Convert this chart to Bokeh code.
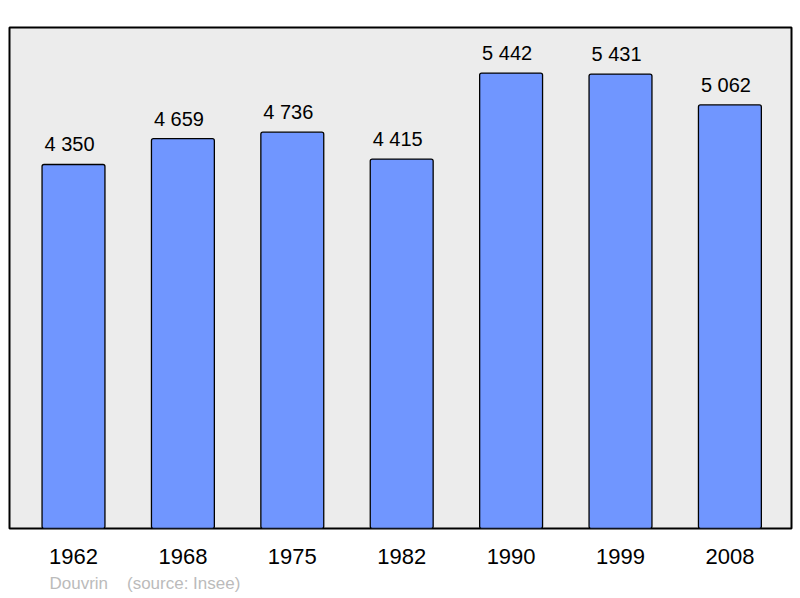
from bokeh.plotting import figure
from bokeh.models import ColumnDataSource, Range1d, FixedTicker, Title
from bokeh.core.properties import value
from bokeh.embed import file_html
from bokeh.resources import INLINE

years = ["1962", "1968", "1975", "1982", "1990", "1999", "2008"]
population = [4350, 4659, 4736, 4415, 5442, 5431, 5062]
value_labels = ["4 350", "4 659", "4 736", "4 415", "5 442", "5 431", "5 062"]

FONT = "Liberation Sans"

src = ColumnDataSource(dict(x=list(range(len(years))), top=population, lab=value_labels))

p = figure(width=800, height=597, output_backend="svg", toolbar_location=None,
           x_range=Range1d(-0.585, 6.563), y_range=Range1d(0, 5987),
           min_border_left=9, min_border_right=9, min_border_top=27, min_border_bottom=69)

p.background_fill_color = "#ececec"
p.border_fill_color = "white"
p.outline_line_color = "black"
p.outline_line_width = 2
p.grid.visible = False
p.yaxis.visible = False

p.vbar(x="x", top="top", width=0.575, bottom=0, source=src,
       fill_color="#7096ff", line_color="black", line_width=1.3, border_radius=2)

p.text(x="x", y="top", text="lab", source=src, text_align="center",
       text_baseline="alphabetic", y_offset=-20, x_offset=-4,
       text_font=value(FONT), text_font_size="20px", text_color="black")

ax = p.xaxis[0]
ax.ticker = FixedTicker(ticks=list(range(len(years))))
ax.major_label_overrides = {i: y for i, y in enumerate(years)}
ax.axis_line_color = None
ax.major_tick_line_color = None
ax.minor_tick_line_color = None
ax.major_tick_out = 0
ax.major_label_standoff = 20
ax.major_label_text_font = FONT
ax.major_label_text_font_size = "22px"
ax.major_label_text_color = "black"

foot = Title(text="Douvrin\u00a0\u00a0\u00a0\u00a0(source: Insee)", align="left", offset=40,
             text_font=FONT, text_font_size="17px", text_color="#bbbbbb",
             text_font_style="normal", standoff=10)
p.add_layout(foot, "below")

open("out.html", "w").write(file_html(p, INLINE))
